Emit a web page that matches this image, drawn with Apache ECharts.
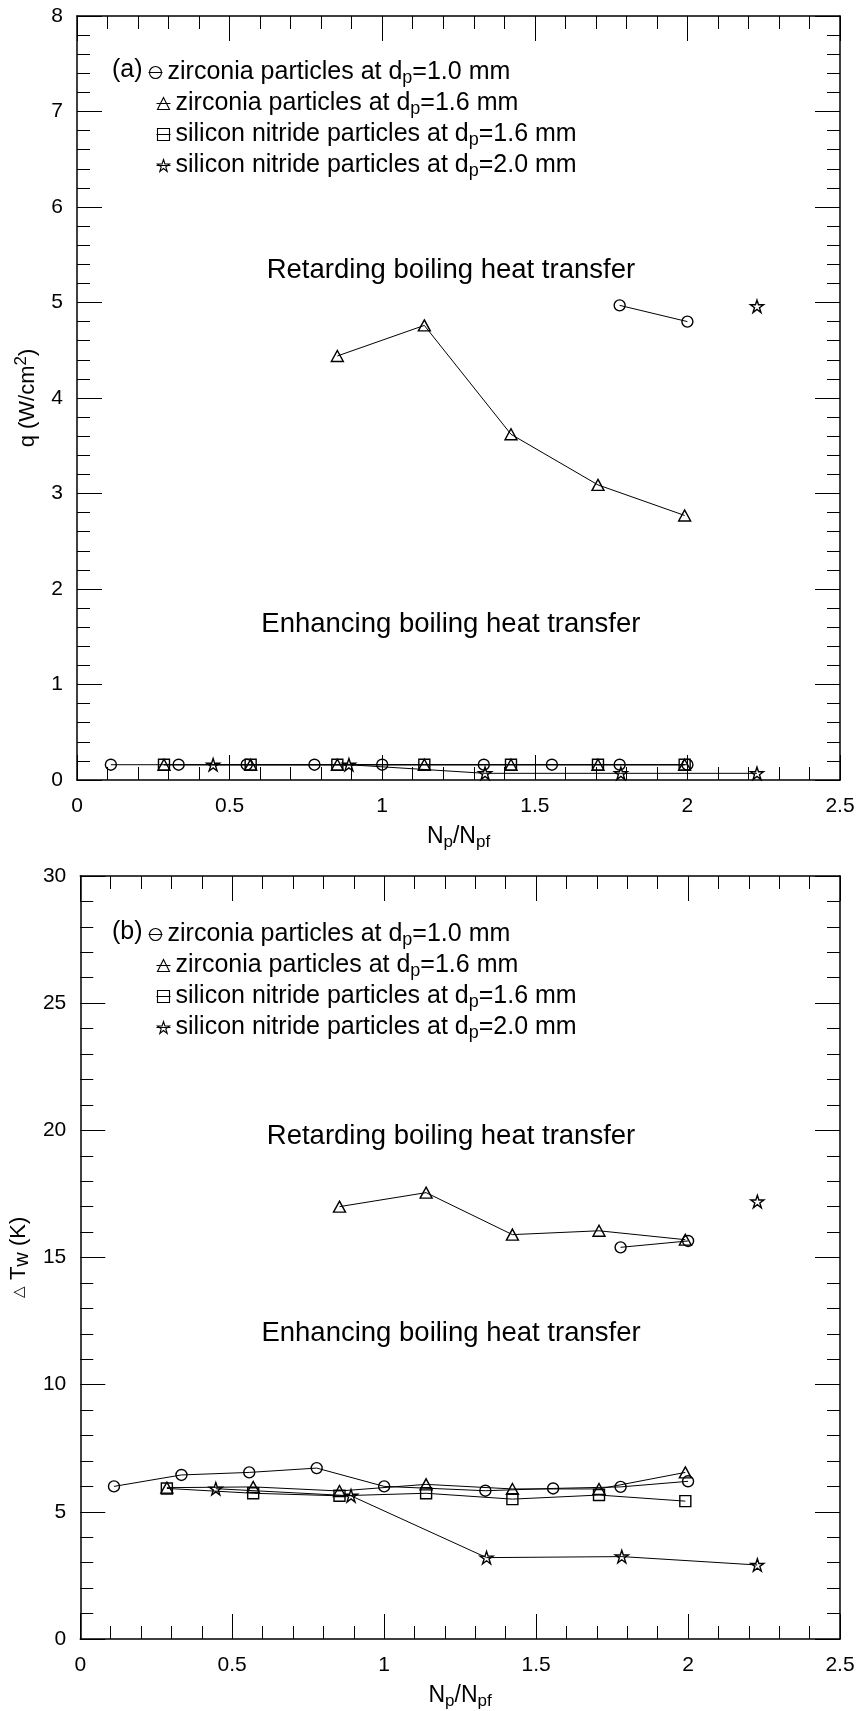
<!DOCTYPE html>
<html>
<head>
<meta charset="utf-8">
<script src="https://cdn.jsdelivr.net/npm/echarts@6/dist/echarts.min.js"></script>
<style>
  html, body { margin: 0; padding: 0; background: #fff; }
  #chart { width: 858px; height: 1711px; }
</style>
</head>
<body>
<div id="chart"></div>
<script>
// ---- particle loading Np/Npf for each particle type ----
const npZr10 = [0.111, 0.333, 0.556, 0.778, 1.0, 1.333, 1.556, 1.778, 2.0];
const npZr16 = [0.285, 0.569, 0.853, 1.138, 1.422, 1.707, 1.991];
const npSi16 = [0.285, 0.569, 0.853, 1.138, 1.422, 1.707, 1.991];
const npSi20 = [0.446, 0.891, 1.337, 1.782, 2.228];
// points of the retarding (high) branch
const npZr10Hi = [1.778, 2.0];
const npZr16Hi = [0.853, 1.138, 1.422, 1.707, 1.991];
const npSi20Hi = [2.228];

// ---- (a) heat flux q (W/cm2) ----
const qZr10 = [0.16, 0.16, 0.16, 0.16, 0.16, 0.16, 0.16, 0.16, 0.16];
const qZr16 = [0.16, 0.16, 0.16, 0.16, 0.16, 0.16, 0.16];
const qSi16 = [0.16, 0.16, 0.16, 0.16, 0.16, 0.16, 0.16];
const qSi20 = [0.16, 0.16, 0.07, 0.07, 0.07];
const qZr10Hi = [4.97, 4.80];
const qZr16Hi = [4.44, 4.76, 3.62, 3.09, 2.77];
const qSi20Hi = [4.96];

// ---- (b) wall superheat dTw (K) ----
const dtZr10 = [6.0, 6.45, 6.55, 6.72, 6.0, 5.83, 5.92, 5.98, 6.2];
const dtZr16 = [5.95, 5.98, 5.82, 6.08, 5.9, 5.9, 6.55];
const dtSi16 = [5.92, 5.73, 5.63, 5.73, 5.5, 5.66, 5.42];
const dtSi20 = [5.91, 5.63, 3.2, 3.24, 2.91];
const dtZr10Hi = [15.4, 15.65];
const dtZr16Hi = [17.0, 17.55, 15.9, 16.05, 15.7];
const dtSi20Hi = [17.2];

// ---- axis ranges / ticks ----
const xRange = [0, 2.5, 0.5];
const qRange = [0, 8, 1];
const dtRange = [0, 30, 5];

// ---- legend names ----
const names = [
  'zirconia particles at d{s|p}=1.0 mm',
  'zirconia particles at d{s|p}=1.6 mm',
  'silicon nitride particles at d{s|p}=1.6 mm',
  'silicon nitride particles at d{s|p}=2.0 mm'
];
const STAR = 'path://M50,2 L61,36 L97,36 L68,57 L79,92 L50,70 L21,92 L32,57 L3,36 L39,36 Z';
const symbols = [['circle', 11], ['triangle', [12, 11]], ['rect', 11], [STAR, 13]];

const FONT = "'Liberation Sans', Arial, Helvetica, sans-serif";
const chart = echarts.init(document.getElementById('chart'), null, { renderer: 'canvas' });

function zip(xs, ys) { return xs.map((x, i) => [x, ys[i]]); }

function line(k, xs, ys, axisIdx) {
  return {
    type: 'line',
    name: names[k],
    xAxisIndex: axisIdx * 2,
    yAxisIndex: axisIdx * 2,
    data: zip(xs, ys),
    symbol: symbols[k][0],
    symbolSize: symbols[k][1],
    symbolKeepAspect: true,
    showAllSymbol: true,
    itemStyle: { color: 'rgba(0,0,0,0)', borderColor: '#000', borderWidth: 1.4 },
    lineStyle: { color: '#000', width: 1 },
    emphasis: { disabled: true },
    silent: true,
    animation: false,
    z: 3
  };
}

function frameAxis(grid, range) {
  return {
    type: 'value', gridIndex: grid, min: range[0], max: range[1], interval: range[2],
    axisLine: { onZero: false, lineStyle: { color: '#000', width: 1.5 } },
    axisTick: { inside: true, length: 25, lineStyle: { color: '#000', width: 1 } },
    minorTick: { show: true, splitNumber: 5, length: 13, lineStyle: { color: '#000', width: 1 } },
    splitLine: { show: false }
  };
}

function xAxes(grid) {
  return [
    Object.assign(frameAxis(grid, xRange), {
      position: 'bottom',
      axisLabel: { fontFamily: FONT, fontSize: 21, color: '#000', margin: 16 },
      name: 'N{s|p}/N{s|pf}',
      nameLocation: 'middle',
      nameGap: 42,
      nameTextStyle: {
        fontFamily: FONT, fontSize: 23, color: '#000',
        rich: { s: { fontFamily: FONT, fontSize: 17, color: '#000', padding: [12, 0, 0, 0] } }
      }
    }),
    Object.assign(frameAxis(grid, xRange), { position: 'top', axisLabel: { show: false } })
  ];
}

function yAxes(grid, range, nm, rich) {
  return [
    Object.assign(frameAxis(grid, range), {
      position: 'left',
      axisLabel: { fontFamily: FONT, fontSize: 21, color: '#000', margin: 14 },
      name: nm,
      nameLocation: 'middle',
      nameGap: 35,
      nameTextStyle: { fontFamily: FONT, fontSize: 22, color: '#000', rich: rich }
    }),
    Object.assign(frameAxis(grid, range), { position: 'right', axisLabel: { show: false } })
  ];
}

// one legend block per entry; the first entry sits after the panel tag
function legends(topCenters) {
  return names.map((n, i) => ({
    data: [n],
    orient: 'vertical',
    left: i === 0 ? 143 : 151,
    top: topCenters[i] - 14,
    itemWidth: 14,
    itemHeight: 15,
    itemGap: 0,
    selectedMode: false,
    formatter: s => s,
    itemStyle: { color: 'rgba(0,0,0,0)', borderColor: '#000', borderWidth: 1.1 },
    lineStyle: { color: '#000', width: 1 },
    textStyle: {
      fontFamily: FONT, fontSize: 25, color: '#000',
      rich: { s: { fontFamily: FONT, fontSize: 18, color: '#000', padding: [11, 0, 0, 0] } }
    }
  }));
}

const option = {
  backgroundColor: '#fff',
  animation: false,
  grid: [
    { left: 77, right: 18, top: 16, height: 764 },
    { left: 77, right: 18, top: 876, height: 765 }
  ],
  xAxis: [...xAxes(0), ...xAxes(1)],
  yAxis: [
    ...yAxes(0, qRange, 'q (W/cm{sup|2})', {
      sup: { fontFamily: FONT, fontSize: 17, color: '#000', padding: [0, 0, 12, 0] }
    }),
    ...yAxes(1, dtRange, '{tri|\u25B3} T{s|w} (K)', {
      tri: { fontFamily: FONT, fontSize: 15, color: '#000' },
      s: { fontFamily: FONT, fontSize: 20, color: '#000', padding: [6, 0, 0, 0] }
    })
  ],
  legend: [...legends([69, 100, 131, 162]), ...legends([931, 962, 993, 1024])],
  series: [
    // (a) heat flux
    line(0, npZr10, qZr10, 0),
    line(1, npZr16, qZr16, 0),
    line(2, npSi16, qSi16, 0),
    line(3, npSi20, qSi20, 0),
    line(0, npZr10Hi, qZr10Hi, 0),
    line(1, npZr16Hi, qZr16Hi, 0),
    line(3, npSi20Hi, qSi20Hi, 0),
    // (b) wall superheat
    line(0, npZr10, dtZr10, 1),
    line(1, npZr16, dtZr16, 1),
    line(2, npSi16, dtSi16, 1),
    line(3, npSi20, dtSi20, 1),
    line(0, npZr10Hi, dtZr10Hi, 1),
    line(1, npZr16Hi, dtZr16Hi, 1),
    line(3, npSi20Hi, dtSi20Hi, 1)
  ]
};
chart.setOption(option);

// region captions placed in data space
const notes = [
  { grid: 0, x: 1.225, y: 5.34, text: 'Retarding boiling heat transfer' },
  { grid: 0, x: 1.225, y: 1.63, text: 'Enhancing boiling heat transfer' },
  { grid: 1, x: 1.22, y: 19.75, text: 'Retarding boiling heat transfer' },
  { grid: 1, x: 1.22, y: 12.0, text: 'Enhancing boiling heat transfer' }
];
const graphics = notes.map(n => {
  const p = chart.convertToPixel({ gridIndex: n.grid }, [n.x, n.y]);
  return {
    type: 'text', x: p[0], y: p[1], z: 10, silent: true,
    style: { text: n.text, fontFamily: FONT, fontSize: 27.5, fill: '#000', align: 'center', verticalAlign: 'middle' }
  };
});
graphics.push(
  { type: 'text', x: 112, y: 70, silent: true,
    style: { text: '(a)', fontFamily: FONT, fontSize: 25, fill: '#000', verticalAlign: 'middle' } },
  { type: 'text', x: 112, y: 932, silent: true,
    style: { text: '(b)', fontFamily: FONT, fontSize: 25, fill: '#000', verticalAlign: 'middle' } }
);
chart.setOption({ graphic: graphics });
</script>
</body>
</html>
